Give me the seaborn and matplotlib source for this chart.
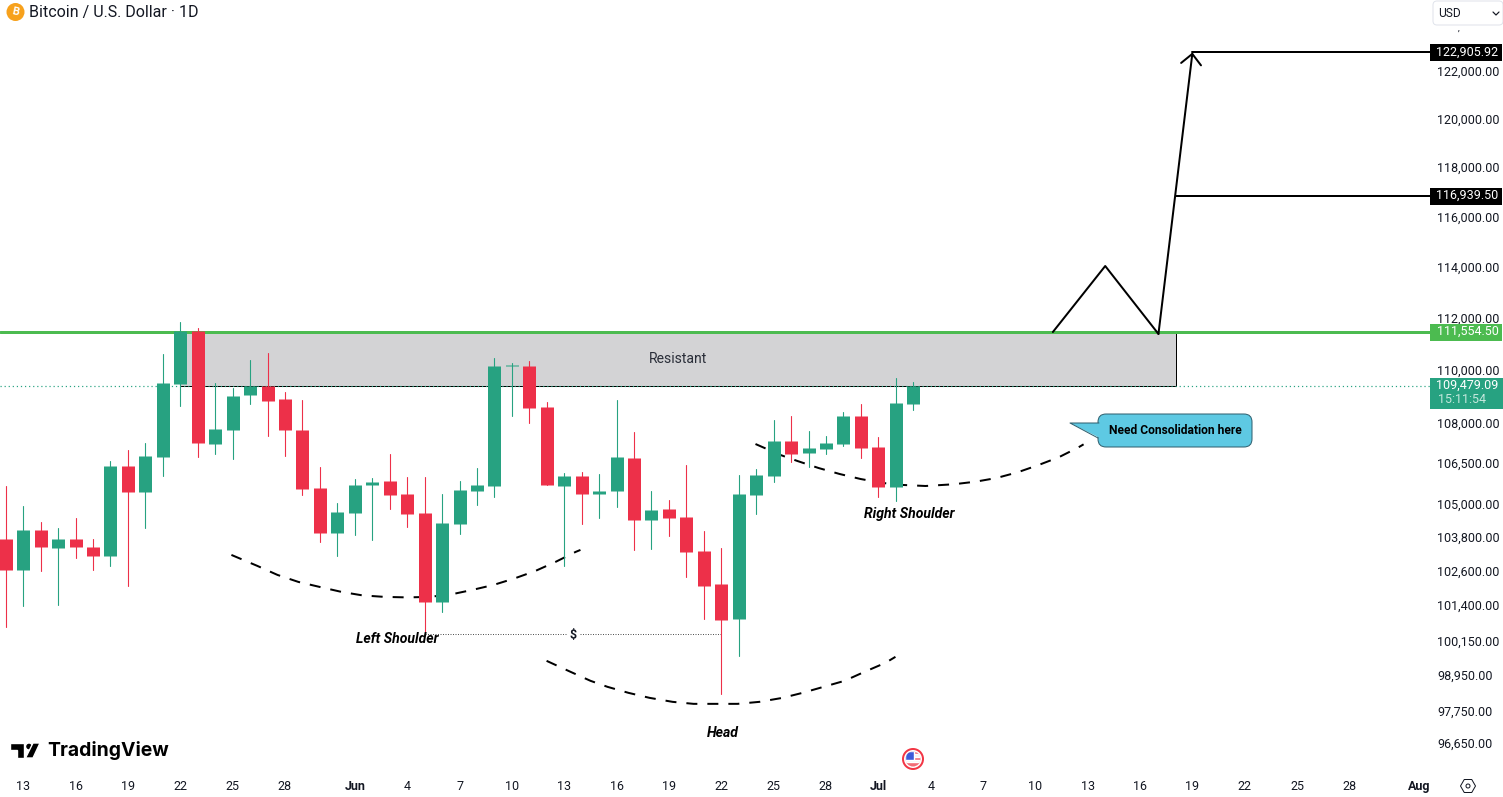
## import libraries
import numpy as np
import pandas as pd
import matplotlib.pyplot as plt
import seaborn as sns
from matplotlib.patches import Circle, FancyBboxPatch, Polygon, Rectangle, RegularPolygon
from matplotlib.ticker import NullFormatter, NullLocator
from matplotlib.transforms import ScaledTranslation

## Daily BTC/USD candles, bar 0 is May 12
open_prices = [103830, 102725, 104160, 103510, 103830, 103550, 103220, 106490, 105540, 106820,
               109560, 111590, 107310, 107830, 109140, 109485, 108990, 107830, 105680, 104050,
               104770, 105790, 105940, 105465, 104770, 101590, 104375, 105575, 105760, 110245,
               110245, 108690, 105760, 106125, 105465, 105575, 106790, 104520, 104920, 104630,
               103400, 102230, 101000, 105430, 106125, 107420, 106970, 107120, 107310, 108350,
               107195, 105720, 108800]
high_prices = [105760, 105030, 104450, 104230, 104590, 103830, 106680, 107080, 107340, 110700,
               111940, 111710, 109600, 109410, 110475, 110740, 109260, 108955, 106455, 105136,
               106010, 106050, 106940, 106090, 106090, 105465, 105940, 106420, 110550, 110360,
               110440, 108880, 106235, 106270, 106200, 108955, 107750, 105575, 105245, 106530,
               104120, 103510, 106160, 106380, 108200, 108350, 107790, 107600, 108500, 108800,
               107570, 109790, 109636]
low_prices = [100720, 101450, 102690, 101490, 103150, 102725, 102870, 102160, 104230, 106120,
              108730, 106820, 106940, 106750, 108800, 107600, 106860, 105430, 103725, 103220,
              103980, 103800, 104920, 104270, 100510, 101240, 104010, 105060, 105355, 108350,
              108090, 105795, 102870, 104375, 104590, 104990, 103440, 103475, 103940, 102480,
              101000, 98405, 99710, 104740, 105900, 106640, 106455, 106940, 107230, 106790,
              105355, 105210, 108580]
close_prices = [102730, 104160, 103550, 103830, 103550, 103220, 106490, 105540, 106860, 109600,
                111590, 107340, 107870, 109110, 109485, 108920, 107830, 105650, 104050, 104810,
                105790, 105900, 105430, 104740, 101590, 104410, 105610, 105790, 110245, 110285,
                108650, 105795, 106125, 105465, 105575, 106824, 104520, 104880, 104590, 103370,
                102160, 100960, 105465, 106160, 107420, 106940, 107160, 107340, 108350, 107160,
                105720, 108840, 109479.09]

## Levels and drawings on the chart
resistance_level = 111554.50
last_price = 109479.09
target_1 = 116939.50
target_2 = 122905.92

path_bars = [60, 63, 66.05, 68]
path_prices = [111554.5, 114137, 111480, 122905.92]

left_arc_bars = [12.93, 14.42, 15.57, 16.77, 17.98, 19.24, 20.44, 21.7, 23.0, 24.3, 25.66, 26.74,
                 27.95, 29.15, 30.35, 31.5, 32.65, 32.93]
left_arc_prices = [103260, 102867, 102547, 102298, 102122, 101945, 101822, 101769, 101751, 101769,
                   101875, 102016, 102192, 102422, 102689, 103010, 103367, 103439]
head_arc_bars = [30.99, 32.36, 33.51, 34.48, 35.68, 36.89, 38.21, 39.41, 40.67, 41.93, 43.19, 44.51,
                 45.66, 46.86, 48.06, 49.21, 50.41, 50.98]
head_arc_prices = [99538, 99160, 98850, 98645, 98440, 98269, 98133, 98065, 98065, 98065, 98133, 98269,
                   98440, 98645, 98850, 99160, 99470, 99676]
right_arc_bars = [42.96, 44.4, 45.37, 46.57, 47.78, 48.98, 50.24, 51.44, 52.7, 54.31, 55.57, 56.77,
                  57.98, 59.18, 60.33, 61.47, 61.76]
right_arc_prices = [107307, 106898, 106676, 106419, 106198, 106014, 105867, 105794, 105757, 105820,
                    105915, 106050, 106260, 106529, 106813, 107184, 107295]

## Axis labels
y_ticks = [122000, 120000, 118000, 116000, 114000, 112000, 110000, 108000, 106500, 105000,
           103800, 102600, 101400, 100150, 98950, 97750, 96650]
x_ticks = [1, 4, 7, 10, 13, 16, 20, 23, 26, 29, 32, 35, 38, 41, 44, 47, 50, 53, 56, 59, 62, 65, 68, 71, 74, 77, 81]
x_labels = ["13", "16", "19", "22", "25", "28", "Jun", "4", "7", "10", "13", "16", "19", "22", "25", "28",
            "Jul", "4", "7", "10", "13", "16", "19", "22", "25", "28", "Aug"]

GREEN = "#27A281"
RED = "#ED3049"
INK = "#131722"
PX = 0.72  # one pixel in points at dpi 100
TICK_SIZE = 12.5 * PX

sns.set_theme(style="white")
plt.rcParams["font.family"] = ["Roboto", "DejaVu Sans"]

df = pd.DataFrame({"bar": range(len(open_prices)), "open": open_prices, "high": high_prices,
                   "low": low_prices, "close": close_prices})
df["side"] = np.where(df["close"] >= df["open"], "up", "down")
wicks = df.melt(id_vars=["bar", "side"], value_vars=["high", "low"], value_name="price")
bodies = df.melt(id_vars=["bar", "side"], value_vars=["open", "close"], value_name="price")
palette = {"up": GREEN, "down": RED}

fig = plt.figure(figsize=(15.03, 7.97), dpi=100)
ax = fig.add_axes([0, 27 / 797, 1430 / 1503, 770 / 797])

## Candles
sns.lineplot(data=wicks, x="bar", y="price", hue="side", units="bar", estimator=None, palette=palette,
             linewidth=1.1 * PX, legend=False, zorder=6, ax=ax)
sns.lineplot(data=bodies, x="bar", y="price", hue="side", units="bar", estimator=None, palette=palette,
             linewidth=13 * PX, legend=False, zorder=7, solid_capstyle="butt", ax=ax)

## Hand drawn pattern arcs
for bars, prices in [(left_arc_bars, left_arc_prices), (head_arc_bars, head_arc_prices),
                     (right_arc_bars, right_arc_prices)]:
    sns.lineplot(x=bars, y=prices, color="black", linewidth=2 * PX, estimator=None, sort=False,
                 dashes=False, zorder=4, ax=ax).lines[-1].set_dashes((5.5, 5))

## Expected path after the break
sns.lineplot(x=path_bars[:3], y=path_prices[:3], color="black", linewidth=2 * PX, estimator=None,
             sort=False, zorder=5, ax=ax)
ax.annotate("", xy=(path_bars[3], path_prices[3]), xytext=(path_bars[2], path_prices[2]), zorder=5,
            arrowprops=dict(arrowstyle="->,head_length=0.62,head_width=0.6", color="black",
                            lw=2 * PX, shrinkA=0, shrinkB=0))
sns.lineplot(x=[67.03, 81.7], y=[target_1, target_1], color="black", linewidth=2 * PX, zorder=5, ax=ax)
sns.lineplot(x=[68, 81.7], y=[target_2, target_2], color="black", linewidth=2 * PX, zorder=5, ax=ax)

## Resistance box and levels
ax.add_patch(Rectangle((10, last_price), 57.06, resistance_level - last_price, facecolor="#D3D3D5",
                       edgecolor="black", linewidth=1 * PX, zorder=1))
ax.axhline(last_price, color=GREEN, linewidth=1.2 * PX, linestyle=(0, (1, 2.4)), zorder=2)
ax.axhline(resistance_level, color="#4CBB50", linewidth=3 * PX, zorder=3)

## Price range line for the $ label
sns.lineplot(x=[24, 41], y=[100473, 100473], color="#555555", linewidth=1 * PX, linestyle=(0, (1, 1.5)),
             zorder=3, ax=ax)

ax.set_yscale("log")
ax.set_xlim(-0.33, 81.61)
ax.set_ylim(95842, 125161)
ax.set_yticks(y_ticks, [f"{t:,.2f}" for t in y_ticks])
ax.yaxis.set_minor_locator(NullLocator())
ax.yaxis.set_minor_formatter(NullFormatter())
ax.yaxis.tick_right()
ax.set_xticks(x_ticks, x_labels)
ax.set_xlabel("")
ax.set_ylabel("")
ax.grid(False)
ax.tick_params(axis="y", length=0, pad=7.5 * PX, labelsize=TICK_SIZE, labelcolor=INK)
ax.tick_params(axis="x", length=0, pad=10 * PX, labelsize=TICK_SIZE, labelcolor=INK)
for lab in ax.get_xticklabels():
    if lab.get_text() in ("Jun", "Jul", "Aug"):
        lab.set_fontweight("bold")
offset = ScaledTranslation(0, 2.8 / 100, fig.dpi_scale_trans)
for lab in ax.yaxis.get_majorticklabels():
    lab.set_transform(lab.get_transform() + offset)
sns.despine(ax=ax, left=True, bottom=True, right=True, top=True)

## Labels on the chart
ax.text(38.5, 110514, "Resistant", ha="center", va="center", fontsize=14 * PX, color="#2A2E39", zorder=8)
label_font = dict(ha="center", va="center", fontsize=14 * PX, fontweight="bold", fontstyle="italic",
                  color="black", zorder=8)
ax.text(22.45, 100298, "Left Shoulder", **label_font)
ax.text(51.76, 104737, "Right Shoulder", **label_font)
ax.text(41.07, 97082, "Head", **label_font)
ax.text(32.5, 100403, "$", ha="center", va="center", fontsize=12.5 * PX, fontweight="bold", color=INK, zorder=8,
        bbox=dict(facecolor="white", edgecolor="none", pad=2))

## Pixel overlay for the interface furniture
ov = fig.add_axes([0, 0, 1, 1], zorder=10)
ov.set_xlim(0, 1503)
ov.set_ylim(797, 0)
ov.axis("off")
ov.patch.set_alpha(0)


def price_px(price):
    return 797 - ax.transData.transform((0, price))[1]


for level, box_color in [(target_2, "black"), (target_1, "black"), (resistance_level, "#4CBB50")]:
    yy = price_px(level)
    ov.add_patch(Rectangle((1430, yy - 8), 72, 17, facecolor=box_color, edgecolor="none"))
    ov.text(1467.5, yy - 0.5, f"{level:,.2f}", ha="center", va="center", fontsize=TICK_SIZE, color="white")
yy = price_px(last_price)
ov.add_patch(Rectangle((1430, yy - 8.5), 73, 31, facecolor=GREEN, edgecolor="none"))
ov.text(1467.5, yy - 0.5, f"{last_price:,.2f}", ha="center", va="center", fontsize=TICK_SIZE, color="white")
ov.text(1438, yy + 13.5, "15:11:54", ha="left", va="center", fontsize=TICK_SIZE, color="#C5E8DD")

## Callout
ov.add_patch(FancyBboxPatch((1098, 414), 154, 33, boxstyle="round,pad=0,rounding_size=8",
                            facecolor="#5EC9E3", edgecolor="#2F5F6E", linewidth=1 * PX))
ov.add_patch(Polygon([(1070, 423), (1100, 423), (1100, 438)], closed=True, facecolor="#5EC9E3", edgecolor="none"))
ov.plot([1099, 1070, 1098], [423, 423, 438], color="#2F5F6E", linewidth=1 * PX)
ov.text(1175, 430, "Need Consolidation here", ha="center", va="center", fontsize=12 * PX,
        fontweight="bold", color="black")

## Title
ov.add_patch(Circle((15.5, 12), 9, facecolor="#F7A11C", edgecolor="none"))
ov.text(15.5, 12, "B", ha="center", va="center", fontsize=11 * PX, fontweight="bold", color="white", rotation=-12)
ov.text(29, 12, "Bitcoin / U.S. Dollar · 1D", ha="left", va="center", fontsize=16 * PX, color=INK)

## Currency button
ov.add_patch(FancyBboxPatch((1433, 1), 70, 24, boxstyle="round,pad=0,rounding_size=4",
                            facecolor="white", edgecolor="#E0E3EB", linewidth=1 * PX))
ov.text(1438, 13, "USD", ha="left", va="center", fontsize=12 * PX, color=INK)
ov.plot([1493, 1496, 1499], [12, 15, 12], color=INK, linewidth=1.2 * PX)
ov.text(1459, 28, ",", ha="center", va="center", fontsize=9 * PX, color=INK)

## TradingView logo
ov.add_patch(Polygon([(10, 743), (24, 743), (24, 758), (17, 758), (17, 750), (10, 750)], facecolor="black"))
ov.add_patch(Circle((29, 746.5), 3.5, facecolor="black"))
ov.add_patch(Polygon([(33, 743), (40, 743), (33, 758), (25.5, 758)], facecolor="black"))
ov.text(47, 751, "TradingView", ha="left", va="center", fontsize=19.4 * PX, fontweight="bold", color="black",
        family=["Inter", "DejaVu Sans"])

## Event flag
flag = Circle((913, 759), 7.5, facecolor="#F5F5F5", edgecolor="none")
ov.add_patch(Circle((913, 759), 10, facecolor="white", edgecolor="#F23645", linewidth=2 * PX))
ov.add_patch(flag)
for patch in [Rectangle((905, 751), 16, 3, facecolor="#F26B75"),
              Rectangle((905, 757), 16, 3, facecolor="#F26B75"),
              Rectangle((905, 751), 9, 9, facecolor="#3D5BD9"),
              Rectangle((905, 762), 16, 6, facecolor="#F26B75")]:
    ov.add_patch(patch)
    patch.set_clip_path(flag)

## Settings icon
ov.add_patch(RegularPolygon((1468, 786), 6, radius=7.5, orientation=np.pi / 2, facecolor="white",
                            edgecolor=INK, linewidth=1 * PX))
ov.add_patch(Circle((1468, 786), 2, facecolor="white", edgecolor=INK, linewidth=1 * PX))

fig.savefig("out.png", dpi=100)
